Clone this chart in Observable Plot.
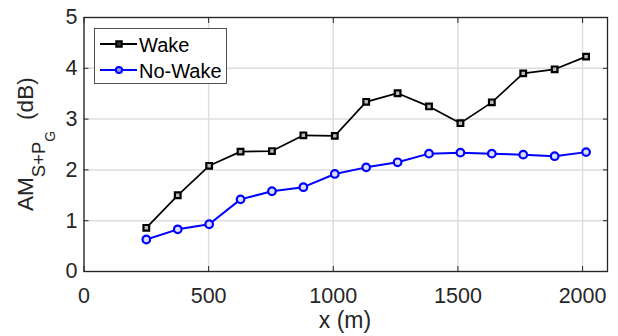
<!DOCTYPE html>
<html>
<head>
<meta charset="utf-8">
<script src="https://cdn.jsdelivr.net/npm/d3@7"></script>
<script src="https://cdn.jsdelivr.net/npm/@observablehq/plot@0.6"></script>
<style>
  html, body { margin: 0; padding: 0; background: #fff; }
  #chart { width: 618px; height: 336px; }
</style>
</head>
<body>
<div id="chart"></div>
<script>
const distances = [250, 376, 502, 628, 754, 880, 1006, 1132, 1258, 1384, 1510, 1636, 1762, 1888, 2014];
const wakeValues = [0.86, 1.50, 2.08, 2.36, 2.37, 2.68, 2.67, 3.34, 3.51, 3.25, 2.92, 3.33, 3.90, 3.98, 4.23];
const noWakeValues = [0.63, 0.83, 0.93, 1.42, 1.58, 1.66, 1.92, 2.05, 2.15, 2.32, 2.34, 2.32, 2.30, 2.27, 2.35];
const seriesNames = ["Wake", "No-Wake"];
const xTicks = [0, 500, 1000, 1500, 2000];
const yTicks = [0, 1, 2, 3, 4, 5];

const wake = distances.map((x, i) => ({x, y: wakeValues[i]}));
const noWake = distances.map((x, i) => ({x, y: noWakeValues[i]}));

const font = "'Liberation Sans', Arial, Helvetica, sans-serif";
const axisColor = "#262626";
const fmt = (d) => String(d);

const chart = Plot.plot({
  width: 618,
  height: 336,
  marginLeft: 83.5,
  marginRight: 11,
  marginTop: 17,
  marginBottom: 65,
  style: {fontFamily: font, fontSize: "21px", color: axisColor, background: "white", overflow: "visible"},
  x: {domain: [0, 2100]},
  y: {domain: [0, 5]},
  marks: [
    Plot.gridX(xTicks, {stroke: "#dedede", strokeOpacity: 1, strokeWidth: 1.5}),
    Plot.gridY(yTicks, {stroke: "#dedede", strokeOpacity: 1, strokeWidth: 1.5}),
    Plot.axisX({anchor: "bottom", ticks: xTicks, tickFormat: fmt, tickSize: -5, tickPadding: 21, fontSize: 21.5, label: null, stroke: axisColor, fill: axisColor}),
    Plot.axisX({anchor: "top", ticks: xTicks, tickSize: -5, tickFormat: () => "", label: null, stroke: axisColor}),
    Plot.axisY({anchor: "left", ticks: yTicks, tickFormat: fmt, tickSize: -5, tickPadding: 11.5, fontSize: 21.5, label: null, stroke: axisColor, fill: axisColor}),
    Plot.axisY({anchor: "right", ticks: yTicks, tickSize: -5, tickFormat: () => "", label: null, stroke: axisColor}),
    Plot.frame({stroke: axisColor, strokeWidth: 1.3}),
    Plot.line(wake, {x: "x", y: "y", stroke: "black", strokeWidth: 1.7}),
    Plot.dot(wake, {x: "x", y: "y", symbol: "square", r: 3.2, stroke: "black", strokeWidth: 2.2, fill: "#bbb"}),
    Plot.line(noWake, {x: "x", y: "y", stroke: "#0000ff", strokeWidth: 2}),
    Plot.dot(noWake, {x: "x", y: "y", symbol: "circle", r: 3.8, stroke: "#0000ff", strokeWidth: 2.2, fill: "#ddf"})
  ]
});

document.getElementById("chart").appendChild(chart);

const svg = d3.select(chart);

// x-axis label
svg.append("text")
  .attr("x", 345).attr("y", 328)
  .attr("text-anchor", "middle")
  .attr("font-family", font).attr("font-size", 23)
  .attr("fill", axisColor)
  .text("x (m)");

// y-axis label with subscripts
const yl = svg.append("text")
  .attr("transform", "translate(33,211) rotate(-90)")
  .attr("text-anchor", "start")
  .attr("font-family", font).attr("font-size", 22.5)
  .attr("fill", axisColor);
yl.append("tspan").text("AM");
yl.append("tspan").attr("font-size", 18.5).attr("dy", 12).text("S+P");
yl.append("tspan").attr("font-size", 14).attr("dy", 10).text("G");
yl.append("tspan").attr("dy", -22).attr("dx", 11).text("(dB)");

// legend
const lg = svg.append("g").attr("font-family", font).attr("font-size", 20).attr("text-anchor", "start");
lg.append("rect").attr("x", 94.5).attr("y", 28.5).attr("width", 132).attr("height", 55)
  .attr("fill", "white").attr("stroke", axisColor).attr("stroke-width", 0.8);
const legendItems = [
  {name: seriesNames[0], color: "black", symbol: d3.symbolSquare, y: 44},
  {name: seriesNames[1], color: "#0000ff", symbol: d3.symbolCircle, y: 70}
];
legendItems.forEach((it) => {
  lg.append("line").attr("x1", 100).attr("x2", 137).attr("y1", it.y).attr("y2", it.y)
    .attr("stroke", it.color).attr("stroke-width", 2);
  lg.append("path").attr("d", d3.symbol(it.symbol, it.symbol === d3.symbolSquare ? 30 : 30)())
    .attr("transform", `translate(119,${it.y})`)
    .attr("fill", it.color === "black" ? "#333" : "#99f").attr("stroke", it.color).attr("stroke-width", 2);
  lg.append("text").attr("x", 139).attr("y", it.y + 7.5).attr("fill", "black").text(it.name);
});
</script>
</body>
</html>
